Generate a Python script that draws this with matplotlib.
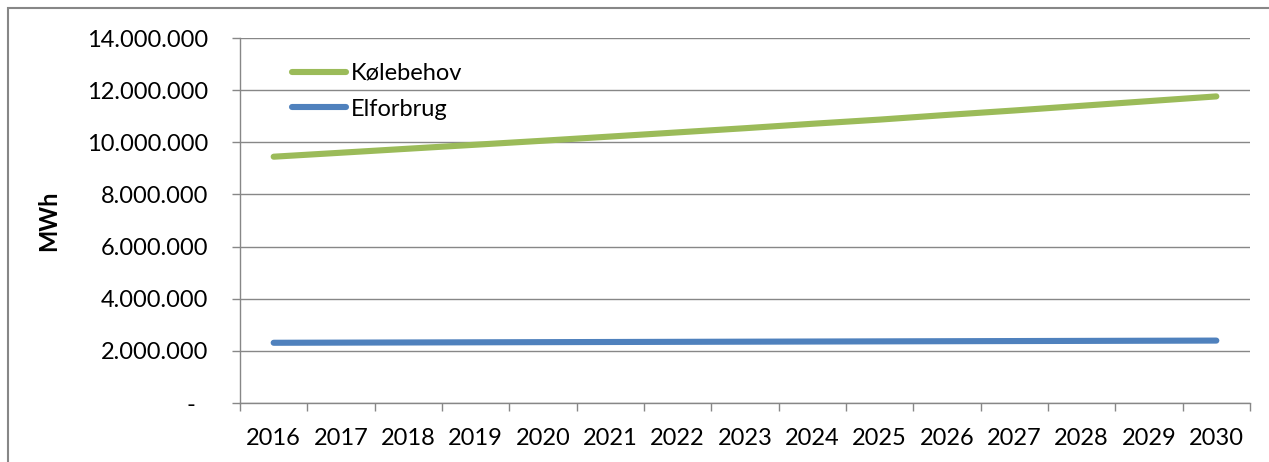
import matplotlib.pyplot as plt
from matplotlib.patches import Rectangle
from matplotlib.ticker import FixedLocator, FuncFormatter

plt.rcParams['font.family'] = ['Lato', 'DejaVu Sans']

years = [2016, 2017, 2018, 2019, 2020, 2021, 2022, 2023, 2024, 2025, 2026, 2027, 2028, 2029, 2030]
# MWh per year
koelebehov = [9447000, 9600000, 9754000, 9907000, 10060000, 10220000, 10380000, 10540000,
              10710000, 10870000, 11050000, 11220000, 11400000, 11580000, 11760000]
elforbrug = [2310000, 2316000, 2322000, 2328000, 2334000, 2340000, 2346000, 2352000,
             2358000, 2364000, 2370000, 2376000, 2382000, 2388000, 2394000]

green = "#9BBB59"
blue = "#4F81BD"
grey = "#878787"

fig = plt.figure(figsize=(12.69, 4.62), dpi=100)
ax = fig.add_axes([240 / 1269, 1 - 403 / 462, 1010 / 1269, 365 / 462])

x = list(range(len(years)))
ax.plot(x, koelebehov, color=green, linewidth=4.4, solid_capstyle="round", label="Kølebehov")
ax.plot(x, elforbrug, color=blue, linewidth=4.4, solid_capstyle="round", label="Elforbrug")

ax.set_xlim(-0.5, len(years) - 0.5)
ax.set_ylim(0, 14000000)

# y axis: gridlines every 2 mio., zero shown as a dash
ax.set_yticks(range(0, 14000001, 2000000))
def fmt(v, pos):
    if v == 0:
        return "-  "
    return "{:,.0f}".format(v).replace(",", ".")
ax.yaxis.set_major_formatter(FuncFormatter(fmt))
ax.grid(axis="y", color=grey, linewidth=1.0)
ax.set_axisbelow(True)

# x axis: ticks between the years, labels in the middle
ax.xaxis.set_major_locator(FixedLocator([i - 0.5 for i in range(len(years) + 1)]))
ax.xaxis.set_minor_locator(FixedLocator(x))
ax.set_xticklabels([])
ax.set_xticklabels([str(y) for y in years], minor=True)
ax.tick_params(axis="x", which="major", length=6, width=1.0, color=grey, direction="out")
ax.tick_params(axis="x", which="minor", length=0, pad=18, labelsize=17)
ax.tick_params(axis="y", length=6, width=1.0, color=grey, direction="out", pad=17, labelsize=17)

for s in ["top", "right"]:
    ax.spines[s].set_visible(False)
for s in ["left", "bottom"]:
    ax.spines[s].set_color(grey)
    ax.spines[s].set_linewidth(1.0)

ax.set_ylabel("MWh", fontsize=17, fontweight="bold")
ax.yaxis.set_label_coords(-180 / 1010, 0.5)

ax.legend(loc="upper left", bbox_to_anchor=(0.042, 0.9575), frameon=False, fontsize=17,
          handlelength=2.3, handletextpad=0.2, labelspacing=0.62, borderaxespad=0)

# chart area border
fig.patches.append(Rectangle((8 / 1269, -0.5), 2, 0.5 + 1 - 8 / 462, transform=fig.transFigure,
                             fill=False, edgecolor=grey, linewidth=1.5))

fig.savefig("out.png", dpi=100)
